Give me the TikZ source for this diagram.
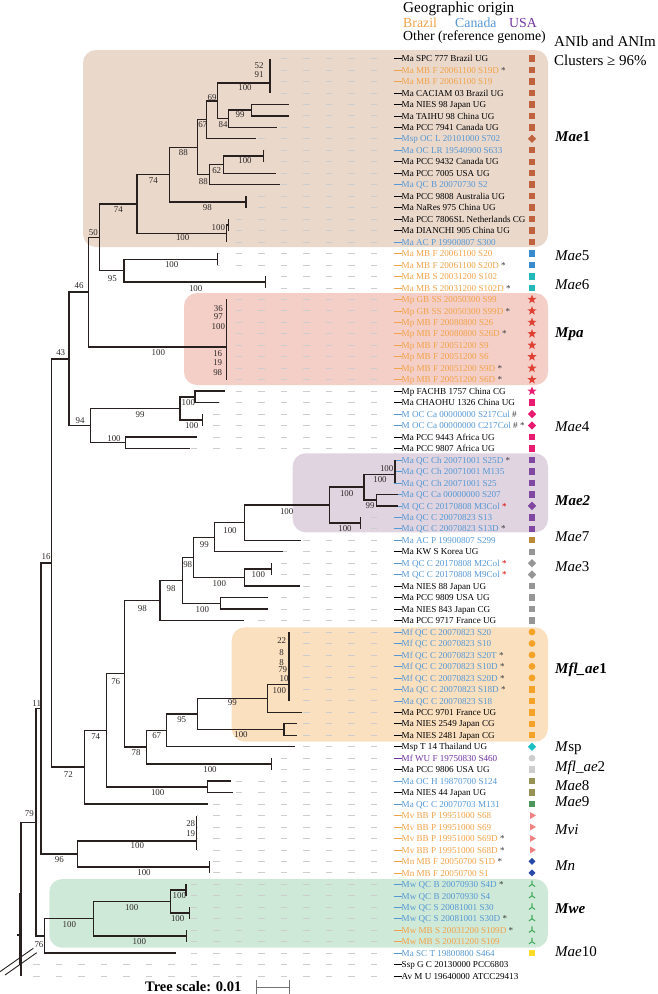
\documentclass[tikz,border=0pt]{standalone}
\usepackage{fontspec}
\setmainfont{Liberation Serif}
\usetikzlibrary{shapes.geometric,calc}
\colorlet{K}{black}
\definecolor{BR}{RGB}{242,162,72}
\definecolor{CA}{RGB}{86,152,212}
\definecolor{US}{RGB}{112,52,160}
\definecolor{akgray}{RGB}{60,60,60}
\definecolor{cMae1}{RGB}{192,98,62}
\definecolor{cMae5}{RGB}{58,138,208}
\definecolor{cMae6}{RGB}{38,184,184}
\definecolor{cMpa}{RGB}{222,64,52}
\definecolor{cMae4}{RGB}{232,28,112}
\definecolor{cMae2}{RGB}{128,72,160}
\definecolor{cMae7}{RGB}{188,138,52}
\definecolor{cMae3}{RGB}{150,150,150}
\definecolor{cMfl}{RGB}{245,162,40}
\definecolor{cMsp}{RGB}{32,190,196}
\definecolor{cMfl2}{RGB}{205,205,205}
\definecolor{cMae8}{RGB}{150,145,85}
\definecolor{cMae9}{RGB}{80,150,95}
\definecolor{cMvi}{RGB}{240,130,130}
\definecolor{cMn}{RGB}{40,72,170}
\definecolor{cMwe}{RGB}{70,172,95}
\definecolor{cMae10}{RGB}{250,220,40}
\definecolor{bMae1}{RGB}{234,216,203}
\definecolor{bMpa}{RGB}{244,207,200}
\definecolor{bMae2}{RGB}{224,212,224}
\definecolor{bMfl}{RGB}{251,224,192}
\definecolor{bMwe}{RGB}{207,233,216}
\definecolor{brc}{RGB}{40,32,30}
\definecolor{dashc}{RGB}{205,205,205}
\definecolor{bsc}{RGB}{45,40,38}
\newcommand\ak{\ \textcolor{akgray}{*}}
\newcommand\rak{\ \textcolor{red!85!black}{*}}
\newcommand\leafrow[5]{%
  \pgfmathsetmacro\lfy{58.5+(#1-1)*11.47}%
  \pgfmathsetmacro\lfb{\lfy+3.2}%
  \coordinate (t#1) at (#2,\lfy);%
  \coordinate (d#1) at (377.3,\lfy);%
  \coordinate (e#1) at (393.5,\lfy);%
  \ifdim #2pt<377pt\relax \draw[dashln] (d#1) -- (t#1);\fi
  \node[lbl,text=#3] (L#1) at (401.5,\lfb) {#4};%
  \draw[lead=#3] (e#1) -- (L#1.base west |- e#1);%
  \node[#5] (M#1) at (532,\lfy) {};%
}
\newcommand\nd[4]{\path ($(#3)!.5!(#4)$) coordinate (tmp);\coordinate (#1) at (#2,0 |- tmp);}
\tikzset{
  br/.style={draw=brc, line width=1.4pt},
  dashln/.style={draw=dashc, line width=0.8pt, dash pattern=on 6.7pt off 15.8pt},
  lead/.style={draw=#1, line width=0.6pt},
  lbl/.style={anchor=base west, inner sep=0pt, font=\fontsize{9.1}{10}\selectfont},
  bs/.style={inner sep=0pt, text=bsc, font=\fontsize{8.9}{9}\selectfont},
  cl/.style={anchor=base west, inner sep=0pt, font=\fontsize{15}{16}\selectfont},
  hd/.style={anchor=base west, inner sep=0pt, font=\fontsize{13.8}{15}\selectfont},
  sq/.style={rectangle, fill=#1, inner sep=0pt, minimum size=6.4pt},
  dia/.style={diamond, fill=#1, inner sep=0pt, minimum size=8.5pt},
  starsym/.style={star, star points=5, star point ratio=2.4, fill=#1, inner sep=0pt, minimum size=9.5pt},
  circsym/.style={circle, fill=#1, inner sep=0pt, minimum size=6.8pt},
  trisym/.style={regular polygon, regular polygon sides=3, shape border rotate=-90, fill=#1, inner sep=0pt, minimum size=8pt},
  flowersym/.style={rectangle, inner sep=0pt, minimum size=9pt, path picture={
    \fill[#1] ([xshift=1.7pt]path picture bounding box.center) circle (1.75pt)
              ([xshift=-1.7pt]path picture bounding box.center) circle (1.75pt)
              ([yshift=1.7pt]path picture bounding box.center) circle (1.75pt)
              ([yshift=-1.7pt]path picture bounding box.center) circle (1.75pt)
              (path picture bounding box.center) circle (1.6pt);}},
  tristarsym/.style={rectangle, inner sep=0pt, minimum size=9pt, path picture={
    \draw[#1, line width=1.1pt] (path picture bounding box.center) -- ++(90:3.8pt)
       (path picture bounding box.center) -- ++(215:3.8pt)
       (path picture bounding box.center) -- ++(325:3.8pt);}},
  nosym/.style={inner sep=0pt, minimum size=0pt},
  scalebar/.style={draw=black!55, line width=1pt}
}
\begin{document}
\begin{tikzpicture}[x=1pt,y=-1pt]
\useasboundingbox (0,0) rectangle (657,994);
% cluster backgrounds
\fill[bMae1, rounded corners=13pt] (83,50) rectangle (548,247);
\fill[bMpa, rounded corners=13pt] (184,293) rectangle (548,385);
\fill[bMae2, rounded corners=13pt] (292.7,453.3) rectangle (548,532.3);
\fill[bMfl, rounded corners=13pt] (231.7,627.3) rectangle (548,741.7);
\fill[bMwe, rounded corners=13pt] (49.3,879) rectangle (548,947.7);
% leaves
\leafrow{1}{270}{K}{Ma SPC 777 Brazil UG}{sq=cMae1}
\leafrow{2}{270}{BR}{Ma MB F 20061100 S19D\ak}{sq=cMae1}
\leafrow{3}{270}{BR}{Ma MB F 20061100 S19}{sq=cMae1}
\leafrow{4}{270}{K}{Ma CACIAM 03 Brazil UG}{sq=cMae1}
\leafrow{5}{289}{K}{Ma NIES 98 Japan UG}{sq=cMae1}
\leafrow{6}{289}{K}{Ma TAIHU 98 China UG}{sq=cMae1}
\leafrow{7}{276.7}{K}{Ma PCC 7941 Canada UG}{sq=cMae1}
\leafrow{8}{256}{CA}{Msp OC L 20101000 S702}{dia=cMae1}
\leafrow{9}{263.3}{CA}{Ma OC LR 19540900 S633}{sq=cMae1}
\leafrow{10}{263.3}{K}{Ma PCC 9432 Canada UG}{sq=cMae1}
\leafrow{11}{276}{K}{Ma PCC 7005 USA UG}{sq=cMae1}
\leafrow{12}{280}{CA}{Ma QC B 20070730 S2}{sq=cMae1}
\leafrow{13}{246}{K}{Ma PCC 9808 Australia UG}{sq=cMae1}
\leafrow{14}{246}{K}{Ma NaRes 975 China UG}{sq=cMae1}
\leafrow{15}{228.7}{K}{Ma PCC 7806SL Netherlands CG}{sq=cMae1}
\leafrow{16}{228.7}{K}{Ma DIANCHI 905 China UG}{sq=cMae1}
\leafrow{17}{226.7}{CA}{Ma AC P 19900807 S300}{sq=cMae1}
\leafrow{18}{217.3}{BR}{Ma MB F 20061100 S20}{sq=cMae5}
\leafrow{19}{217.3}{BR}{Ma MB F 20061100 S20D\ak}{sq=cMae5}
\leafrow{20}{265.7}{BR}{Ma MB S 20031200 S102}{sq=cMae6}
\leafrow{21}{265.7}{BR}{Ma MB S 20031200 S102D\ak}{sq=cMae6}
\leafrow{22}{226.7}{BR}{Mp GB SS 20050300 S99}{starsym=cMpa}
\leafrow{23}{226.7}{BR}{Mp GB SS 20050300 S99D\ak}{starsym=cMpa}
\leafrow{24}{226.7}{BR}{Mp MB F 20080800 S26}{starsym=cMpa}
\leafrow{25}{226.7}{BR}{Mp MB F 20080800 S26D\ak}{starsym=cMpa}
\leafrow{26}{226.7}{BR}{Mp MB F 20051200 S9}{starsym=cMpa}
\leafrow{27}{226.7}{BR}{Mp MB F 20051200 S6}{starsym=cMpa}
\leafrow{28}{226.7}{BR}{Mp MB F 20051200 S9D\ak}{starsym=cMpa}
\leafrow{29}{226.7}{BR}{Mp MB F 20051200 S6D\ak}{starsym=cMpa}
\leafrow{30}{225}{K}{Mp FACHB 1757 China CG}{starsym=cMae4}
\leafrow{31}{219.3}{K}{Ma CHAOHU 1326 China UG}{sq=cMae4}
\leafrow{32}{202.7}{CA}{M OC Ca 00000000 S217Cul \textcolor{akgray}{\#}}{dia=cMae4}
\leafrow{33}{202.7}{CA}{M OC Ca 00000000 C217Col \textcolor{akgray}{\#}\ak}{dia=cMae4}
\leafrow{34}{197.3}{K}{Ma PCC 9443 Africa UG}{sq=cMae4}
\leafrow{35}{190}{K}{Ma PCC 9807 Africa UG}{sq=cMae4}
\leafrow{36}{395}{CA}{Ma QC Ch 20071001 S25D\ak}{sq=cMae2}
\leafrow{37}{395}{CA}{Ma QC Ch 20071001 M135}{sq=cMae2}
\leafrow{38}{395}{CA}{Ma QC Ch 20071001 S25}{sq=cMae2}
\leafrow{39}{398}{CA}{Ma QC Ca 00000000 S207}{sq=cMae2}
\leafrow{40}{398}{CA}{M QC C 20170808 M3Col\rak}{dia=cMae2}
\leafrow{41}{360.7}{CA}{Ma QC C 20070823 S13}{sq=cMae2}
\leafrow{42}{360.7}{CA}{Ma QC C 20070823 S13D\ak}{sq=cMae2}
\leafrow{43}{300.7}{CA}{Ma AC P 19900807 S299}{sq=cMae7}
\leafrow{44}{283.3}{K}{Ma KW S Korea UG}{sq=cMae3}
\leafrow{45}{271.7}{CA}{M QC C 20170808 M2Col\rak}{dia=cMae3}
\leafrow{46}{271.7}{CA}{M QC C 20170808 M9Col\rak}{dia=cMae3}
\leafrow{47}{300}{K}{Ma NIES 88 Japan UG}{sq=cMae3}
\leafrow{48}{268.3}{K}{Ma PCC 9809 USA UG}{sq=cMae3}
\leafrow{49}{268.3}{K}{Ma NIES 843 Japan CG}{sq=cMae3}
\leafrow{50}{244.3}{K}{Ma PCC 9717 France UG}{sq=cMae3}
\leafrow{51}{289}{CA}{Mf QC C 20070823 S20}{circsym=cMfl}
\leafrow{52}{289}{CA}{Mf QC C 20070823 S10}{circsym=cMfl}
\leafrow{53}{289}{CA}{Mf QC C 20070823 S20T\ak}{circsym=cMfl}
\leafrow{54}{289}{CA}{Mf QC C 20070823 S10D\ak}{circsym=cMfl}
\leafrow{55}{289}{CA}{Mf QC C 20070823 S20D\ak}{circsym=cMfl}
\leafrow{56}{289}{CA}{Ma QC C 20070823 S18D\ak}{sq=cMfl}
\leafrow{57}{289}{CA}{Ma QC C 20070823 S18}{sq=cMfl}
\leafrow{58}{301.7}{K}{Ma PCC 9701 France UG}{sq=cMfl}
\leafrow{59}{296.7}{K}{Ma NIES 2549 Japan CG}{sq=cMfl}
\leafrow{60}{296.7}{K}{Ma NIES 2481 Japan CG}{sq=cMfl}
\leafrow{61}{295}{K}{Msp T 14 Thailand UG}{dia=cMsp}
\leafrow{62}{271.7}{US}{Mf WU F 19750830 S460}{circsym=cMfl2}
\leafrow{63}{271.7}{K}{Ma PCC 9806 USA UG}{sq=cMfl2}
\leafrow{64}{230.7}{CA}{Ma OC H 19870700 S124}{sq=cMae8}
\leafrow{65}{233.3}{K}{Ma NIES 44 Japan UG}{sq=cMae8}
\leafrow{66}{208.3}{CA}{Ma QC C 20070703 M131}{sq=cMae9}
\leafrow{67}{196.7}{BR}{Mv BB P 19951000 S68}{trisym=cMvi}
\leafrow{68}{196.7}{BR}{Mv BB P 19951000 S69}{trisym=cMvi}
\leafrow{69}{196.7}{BR}{Mv BB P 19951000 S69D\ak}{trisym=cMvi}
\leafrow{70}{196.7}{BR}{Mv BB P 19951000 S68D\ak}{trisym=cMvi}
\leafrow{71}{209.3}{BR}{Mn MB F 20050700 S1D\ak}{flowersym=cMn}
\leafrow{72}{209.3}{BR}{Mn MB F 20050700 S1}{flowersym=cMn}
\leafrow{73}{186}{CA}{Mw QC B 20070930 S4D\ak}{tristarsym=cMwe}
\leafrow{74}{186}{CA}{Mw QC B 20070930 S4}{tristarsym=cMwe}
\leafrow{75}{189.3}{CA}{Mw QC S 20081001 S30}{tristarsym=cMwe}
\leafrow{76}{189.3}{CA}{Mw QC S 20081001 S30D\ak}{tristarsym=cMwe}
\leafrow{77}{186.7}{BR}{Mw MB S 20031200 S109D\ak}{tristarsym=cMwe}
\leafrow{78}{186.7}{BR}{Mw MB S 20031200 S109}{tristarsym=cMwe}
\leafrow{79}{175.7}{CA}{Ma SC T 19800800 S464}{sq=cMae10}
\leafrow{80}{22}{K}{Ssp G C 20130000 PCC6803}{nosym}
\leafrow{81}{21}{K}{Av M U 19640000 ATCC29413}{nosym}
% internal nodes
\nd{a12}{270}{t1}{t2}
\nd{a123}{270}{a12}{t3}
\nd{A}{270}{a123}{t4}
\nd{n99a}{251.7}{t5}{t6}
\nd{n84}{228.3}{n99a}{t7}
\nd{n69}{217.7}{A}{n84}
\nd{n67}{206.7}{n69}{t8}
\nd{n100c}{263.3}{t9}{t10}
\nd{n62}{223.3}{n100c}{t11}
\nd{n88b}{209.3}{n62}{t12}
\nd{n88a}{197.3}{n67}{n88b}
\nd{n98}{246}{t13}{t14}
\nd{n74a}{169.3}{n88a}{n98}
\nd{n100d}{228.7}{t15}{t16}
\nd{n100e}{226.7}{n100d}{t17}
\nd{n74b}{137}{n74a}{n100e}
\nd{n5a}{217.3}{t18}{t19}
\nd{n6a}{265.7}{t20}{t21}
\nd{n95a}{124}{n5a}{n6a}
\nd{n50}{99.7}{n74b}{n95a}
\coordinate (mpa) at (226.7,347);
\nd{n46}{88.3}{n50}{mpa}
\nd{n30}{195}{t30}{t31}
\nd{n32}{202.7}{t32}{t33}
\nd{n99b}{180}{n30}{n32}
\nd{n34}{125.7}{t34}{t35}
\nd{n94}{90.7}{n99b}{n34}
\nd{n43}{69}{n46}{n94}
\nd{x3637}{395}{t36}{t37}
\nd{x36}{395}{x3637}{t38}
\nd{n39}{376.7}{t39}{t40}
\nd{n100n}{364}{x36}{n39}
\nd{n41}{360.7}{t41}{t42}
\nd{mae2}{329.3}{n100n}{n41}
\nd{n100m}{244.3}{mae2}{t43}
\nd{n99m}{214.3}{n100m}{t44}
\nd{n45}{271.7}{t45}{t46}
\nd{n100i}{244.3}{n45}{t47}
\nd{n98c}{193.3}{n99m}{n100i}
\nd{n48}{220.7}{t48}{t49}
\nd{n98b}{182.3}{n98c}{n48}
\nd{n98a}{160}{n98b}{t50}
\coordinate (mfl) at (289,684.5);
\nd{n99f}{267.3}{mfl}{t58}
\nd{n59}{284}{t59}{t60}
\nd{n95b}{197.3}{n99f}{n59}
\nd{n67b}{166.3}{n95b}{t61}
\nd{n62b}{271.7}{t62}{t63}
\nd{n78}{146.7}{n67b}{n62b}
\nd{n76a}{124.3}{n98a}{n78}
\nd{n64}{207.3}{t64}{t65}
\nd{n74c}{106.7}{n76a}{n64}
\nd{n72}{84.3}{n74c}{t66}
\nd{n16}{51.7}{n43}{n72}
\coordinate (mvi) at (196.7,841);
\nd{mn}{209.3}{t71}{t72}
\nd{n96}{77.3}{mvi}{mn}
\nd{n11}{41}{n16}{n96}
\nd{n73}{186}{t73}{t74}
\nd{n75}{189.3}{t75}{t76}
\nd{w1}{170.7}{n73}{n75}
\nd{n77}{186.7}{t77}{t78}
\nd{mwe}{93.3}{w1}{n77}
\nd{n76b}{44.3}{mwe}{t79}
\nd{n79}{36}{n11}{n76b}
\coordinate (root) at (21,0 |- n79);
\coordinate (r2) at (19.3,893);
% branches
\foreach \p/\c in {a12/t1,a12/t2,a123/a12,a123/t3,A/a123,A/t4,
  n99a/t5,n99a/t6,n84/n99a,n84/t7,n69/A,n69/n84,n67/n69,n67/t8,
  n100c/t9,n100c/t10,n62/n100c,n62/t11,n88b/n62,n88b/t12,n88a/n67,n88a/n88b,
  n98/t13,n98/t14,n74a/n88a,n74a/n98,n100d/t15,n100d/t16,n100e/n100d,n100e/t17,
  n74b/n74a,n74b/n100e,n5a/t18,n5a/t19,n6a/t20,n6a/t21,n95a/n5a,n95a/n6a,
  n50/n74b,n50/n95a,
  mpa/t22,mpa/t23,mpa/t24,mpa/t25,mpa/t26,mpa/t27,mpa/t28,mpa/t29,
  n46/n50,n46/mpa,n30/t30,n30/t31,n32/t32,n32/t33,n99b/n30,n99b/n32,
  n34/t34,n34/t35,n94/n99b,n94/n34,n43/n46,n43/n94,
  x3637/t36,x3637/t37,x36/x3637,x36/t38,n39/t39,n39/t40,n100n/x36,n100n/n39,
  n41/t41,n41/t42,mae2/n100n,mae2/n41,n100m/mae2,n100m/t43,n99m/n100m,n99m/t44,
  n45/t45,n45/t46,n100i/n45,n100i/t47,n98c/n99m,n98c/n100i,n48/t48,n48/t49,
  n98b/n98c,n98b/n48,n98a/n98b,n98a/t50,
  mfl/t51,mfl/t52,mfl/t53,mfl/t54,mfl/t55,mfl/t56,mfl/t57,
  n99f/mfl,n99f/t58,n59/t59,n59/t60,n95b/n99f,n95b/n59,n67b/n95b,n67b/t61,
  n62b/t62,n62b/t63,n78/n67b,n78/n62b,n76a/n98a,n76a/n78,n64/t64,n64/t65,
  n74c/n76a,n74c/n64,n72/n74c,n72/t66,n16/n43,n16/n72,
  mvi/t67,mvi/t68,mvi/t69,mvi/t70,mn/t71,mn/t72,n96/mvi,n96/mn,n11/n16,n11/n96,
  n73/t73,n73/t74,n75/t75,n75/t76,w1/n73,w1/n75,n77/t77,n77/t78,mwe/w1,mwe/n77,
  n76b/mwe,n76b/t79,n79/n11,n79/n76b,root/n79,root/t81,r2/t80}
  \draw[br] (\p) |- (\c);
% break marks
\coordinate (k1) at (16.7,935); \coordinate (k2) at (19.3,935);
\draw[br] (k1) -- (k2);
\coordinate (s1a) at (0,971.7); \coordinate (s1b) at (33.3,948.3);
\coordinate (s2a) at (5,975); \coordinate (s2b) at (36.7,952.7);
\draw[brc, line width=0.9pt] (s1a) -- (s1b) (s2a) -- (s2b);
% bootstrap values
\foreach \x/\y/\t [count=\k] in {259/66/52, 259/74.3/91, 245/88/100, 212/97.7/69, 240/115/99, 223/125/84,
  202.7/125/67, 183.3/152.3/88, 245/161/100, 216.7/171/62, 203.3/181.7/88, 207.3/207.7/98,
  153.3/180.7/74, 218.3/227.7/100, 182.7/237.7/100, 118.3/210/74, 93.3/232.7/50, 171.7/265/100,
  112.3/278.3/95, 195.7/288.3/100, 79/286/46, 218.3/308.3/36, 218.3/316.7/97, 218.3/326.7/100,
  158.3/352.7/100, 217.7/354/16, 217.7/362.7/19, 217.7/372.7/98, 60.7/352.3/43, 188.3/402.7/100,
  140/414.3/99, 80/420.7/94, 191.7/426/100, 114/438.3/100, 386.7/469/100, 380/480/100,
  346.7/493.3/100, 370/506/99, 286.7/511.7/100, 345/529/100, 230/530.7/100, 204.3/545/99,
  187.7/565/98, 258.3/575/100, 219.3/583.3/100, 171/588.3/98, 202.3/609.3/100, 142.3/608.3/98,
  281.7/641/22, 281.7/652.7/8, 281.7/662.3/8, 282.7/669.3/79, 284/679/10, 279.3/691/100,
  232.3/702.7/99, 241/735/100, 181.7/720/95, 156.7/736/67, 115.7/681.7/76, 136/752.7/78,
  210/770/100, 95.7/736.7/74, 157.7/792.7/100, 68.3/775/72, 36.7/704/11, 46/556.7/16,
  29.3/814/79, 190.7/824/28, 190.7/833.3/19, 137.3/846/100, 59.3/860/96, 144/872.7/100,
  179.3/896/100, 131.7/907.3/100, 177.7/918.3/100, 69.3/925/100, 139.3/941.7/100, 39/944.3/76}
  \node[bs] (bs\k) at (\x,\y) {\t};
% cluster names
\node[cl] (cl1) at (555,141) {\textbf{\textit{Mae}1}};
\node[cl] (cl2) at (555,260) {\textit{Mae}5};
\node[cl] (cl3) at (555,289) {\textit{Mae}6};
\node[cl] (cl4) at (555,337.7) {\textbf{\textit{Mpa}}};
\node[cl] (cl5) at (555,431.7) {\textit{Mae}4};
\node[cl] (cl6) at (555,505) {\textbf{\textit{Mae2}}};
\node[cl] (cl7) at (555,541.7) {\textit{Mae}7};
\node[cl] (cl8) at (555,571.7) {\textit{Mae}3};
\node[cl] (cl9) at (555,673.3) {\textbf{\textit{Mfl\_ae}1}};
\node[cl] (cl10) at (555,751.7) {\textit{M}sp};
\node[cl] (cl11) at (555,771.7) {\textit{Mfl\_ae}2};
\node[cl] (cl12) at (555,790.7) {\textit{Mae}8};
\node[cl] (cl13) at (555,806) {\textit{Mae}9};
\node[cl] (cl14) at (555,834.3) {\textit{Mvi}};
\node[cl] (cl15) at (555,870) {\textit{Mn}};
\node[cl] (cl16) at (555,913.3) {\textbf{\textit{Mwe}}};
\node[cl] (cl17) at (555,956.7) {\textit{Mae}10};
% header
\node[anchor=base west, inner sep=0pt, font=\fontsize{15.2}{16}\selectfont] (h1) at (403,12.3) {Geographic origin};
\node[hd, text=BR] (h2) at (403,27) {Brazil};
\node[hd, text=CA] (h3) at (455,27) {Canada};
\node[hd, text=US] (h4) at (509,27) {USA};
\node[hd] (h5) at (403,40) {Other (reference genome)};
\node[cl] (h6) at (554,46.7) {ANIb and ANIm};
\node[cl] (h7) at (554,65) {Clusters ≥ 96\%};
% scale
\node[anchor=base west, inner sep=0pt, font=\bfseries\fontsize{14.5}{15}\selectfont] (ts) at (145,991.5) {Tree scale: 0.01};
\coordinate (sb1) at (256,987); \coordinate (sb2) at (289.3,987);
\coordinate (sb1a) at (256,980); \coordinate (sb1b) at (256,994);
\coordinate (sb2a) at (289.3,980); \coordinate (sb2b) at (289.3,994);
\draw[scalebar] (sb1) -- (sb2) (sb1a) -- (sb1b) (sb2a) -- (sb2b);
\end{tikzpicture}
\end{document}
